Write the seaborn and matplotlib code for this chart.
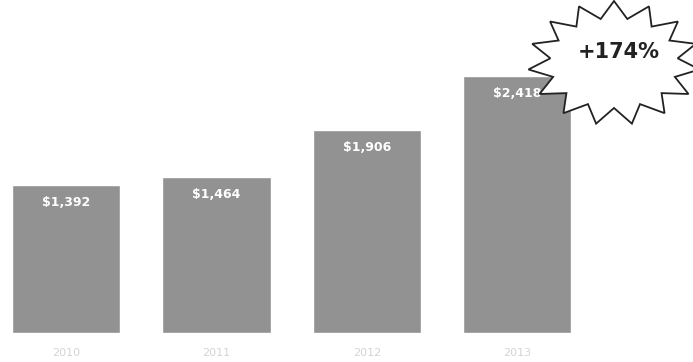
import numpy as np
import pandas as pd
import matplotlib
matplotlib.use("Agg")
import matplotlib.pyplot as plt
import seaborn as sns
from matplotlib.patches import Polygon

years = ["2010", "2011", "2012", "2013"]
values = [1392, 1464, 1906, 2418]
labels = ["$1,392", "$1,464", "$1,906", "$2,418"]
badge = "+174%"

sns.set_theme(style="white")
plt.rcParams['font.family'] = ['DejaVu Sans']

fig = plt.figure(figsize=(6.93, 3.62), dpi=100)
ax = fig.add_axes([0, 29/362, 1, 1 - 29/362])

df = pd.DataFrame({"year": years, "value": values})
sns.barplot(data=df, x="year", y="value", color="#929292", saturation=1,
            width=0.72, ax=ax)

ax.set_xlim(-66/150.4, (693-66)/150.4)
ax.set_ylim(0, 3133)
for s in ax.spines.values():
    s.set_visible(False)
ax.set_yticks([])
ax.set_xlabel("")
ax.set_ylabel("")
ax.tick_params(axis="x", length=0, pad=11, labelsize=8, labelcolor="#d4d4d4")

for i, (v, lab) in enumerate(zip(values, labels)):
    ax.annotate(lab, (i, v), xytext=(0, -12.5), textcoords="offset points",
                ha="center", va="center", color="white", fontsize=9,
                fontweight="bold", zorder=3)

# starburst badge in figure pixel coords
cx, cy = 614, 362 - 63
n = 15
k = np.arange(2*n)
angles = np.linspace(0, 2*np.pi, 2*n, endpoint=False) + np.pi/2
rx = np.where(k % 2 == 0, 86, 64)
ry = np.where(k % 2 == 0, 62, 45)
pts = np.column_stack([cx + rx*np.cos(angles), cy + ry*np.sin(angles)])
poly = Polygon(pts, closed=True, transform=None, facecolor="white",
               edgecolor="#222222", linewidth=1.3, zorder=5)
fig.patches.append(poly)
fig.text(619/693, (362 - 52)/362, badge, ha="center", va="center", fontsize=15,
         fontweight="bold", color="#222222", zorder=6)

fig.savefig("out.png", dpi=100)
